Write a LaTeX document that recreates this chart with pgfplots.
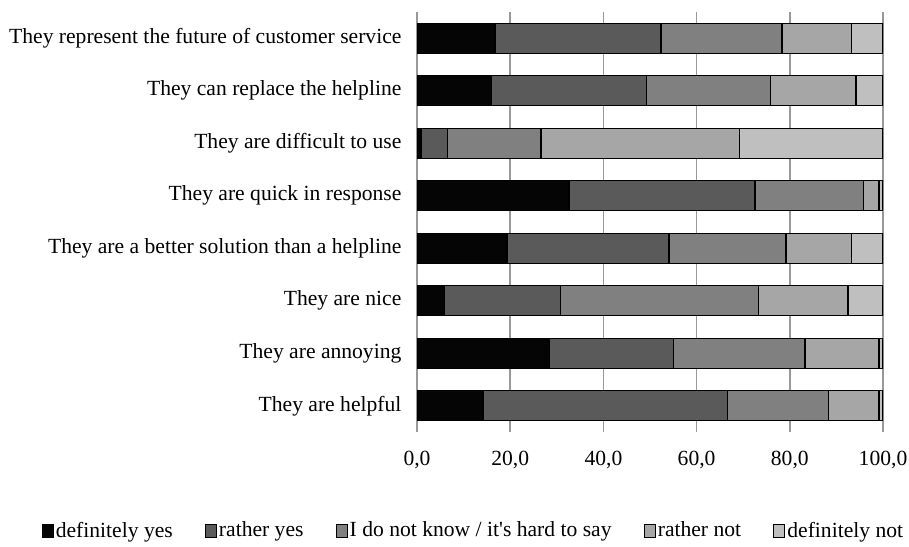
\documentclass[border=0pt]{standalone}
\usepackage{pgfplots}
\pgfplotsset{compat=1.18}
\usepackage{fontspec}
\setmainfont{Liberation Serif}
\definecolor{c1}{HTML}{050505}
\definecolor{c2}{HTML}{5A5A5A}
\definecolor{c3}{HTML}{808080}
\definecolor{c4}{HTML}{A6A6A6}
\definecolor{c5}{HTML}{BFBFBF}
\definecolor{gridc}{HTML}{999999}
\begin{document}
\fontsize{10.8pt}{12.5pt}\selectfont
\begin{tikzpicture}
\useasboundingbox (0,0) rectangle (454.5pt,273pt);
\begin{axis}[
  at={(208.5pt,57pt)}, anchor=south west,
  scale only axis, width=233pt, height=210pt,
  xbar stacked, bar width=15pt,
  xmin=0, xmax=100, ymin=0.5, ymax=8.5,
  y dir=reverse,
  xtick={0,20,40,60,80,100},
  ytick={1,2,3,4,5,6,7,8},
  yticklabels={They represent the future of customer service,They can replace the helpline,They are difficult to use,They are quick in response,They are a better solution than a helpline,They are nice,They are annoying,They are helpful},
  /pgf/number format/fixed,
  /pgf/number format/fixed zerofill,
  /pgf/number format/precision=1,
  /pgf/number format/use comma,
  /pgf/number format/assume math mode=true,
  xticklabel style={yshift=-6pt},
  yticklabel style={xshift=-4pt},
  axis lines*=left,
  axis line style={draw=none},
  tick style={draw=none},
  xmajorgrids, major grid style={gridc, line width=0.8pt},
  every axis plot/.append style={draw=black, line width=0.7pt},
  legend columns=5,
  legend style={draw=none, at={(0.121,-0.236)}, anchor=center,
    /tikz/every even column/.append style={column sep=15pt},
    nodes={inner sep=1pt}},
  legend image code/.code={\draw[#1,draw=black,line width=0.6pt] (0pt,-3.3pt) rectangle (5.5pt,3.3pt);},
]
\addplot[fill=c1] coordinates {(16.7,1) (16.0,2) (0.9,3) (32.6,4) (19.3,5) (5.9,6) (28.4,7) (14.2,8)};
\addplot[fill=c2] coordinates {(35.7,1) (33.3,2) (5.7,3) (39.9,4) (34.8,5) (24.9,6) (26.6,7) (52.4,8)};
\addplot[fill=c3] coordinates {(25.9,1) (26.6,2) (20.0,3) (23.3,4) (25.1,5) (42.5,6) (28.3,7) (21.7,8)};
\addplot[fill=c4] coordinates {(15.0,1) (18.3,2) (42.6,3) (3.3,4) (14.1,5) (19.2,6) (15.8,7) (10.8,8)};
\addplot[fill=c5] coordinates {(6.7,1) (5.8,2) (30.8,3) (0.9,4) (6.7,5) (7.5,6) (0.9,7) (0.9,8)};
\legend{definitely yes,rather yes,I do not know / it\textquotesingle s hard to say,rather not,definitely not}
\end{axis}
\end{tikzpicture}
\end{document}
